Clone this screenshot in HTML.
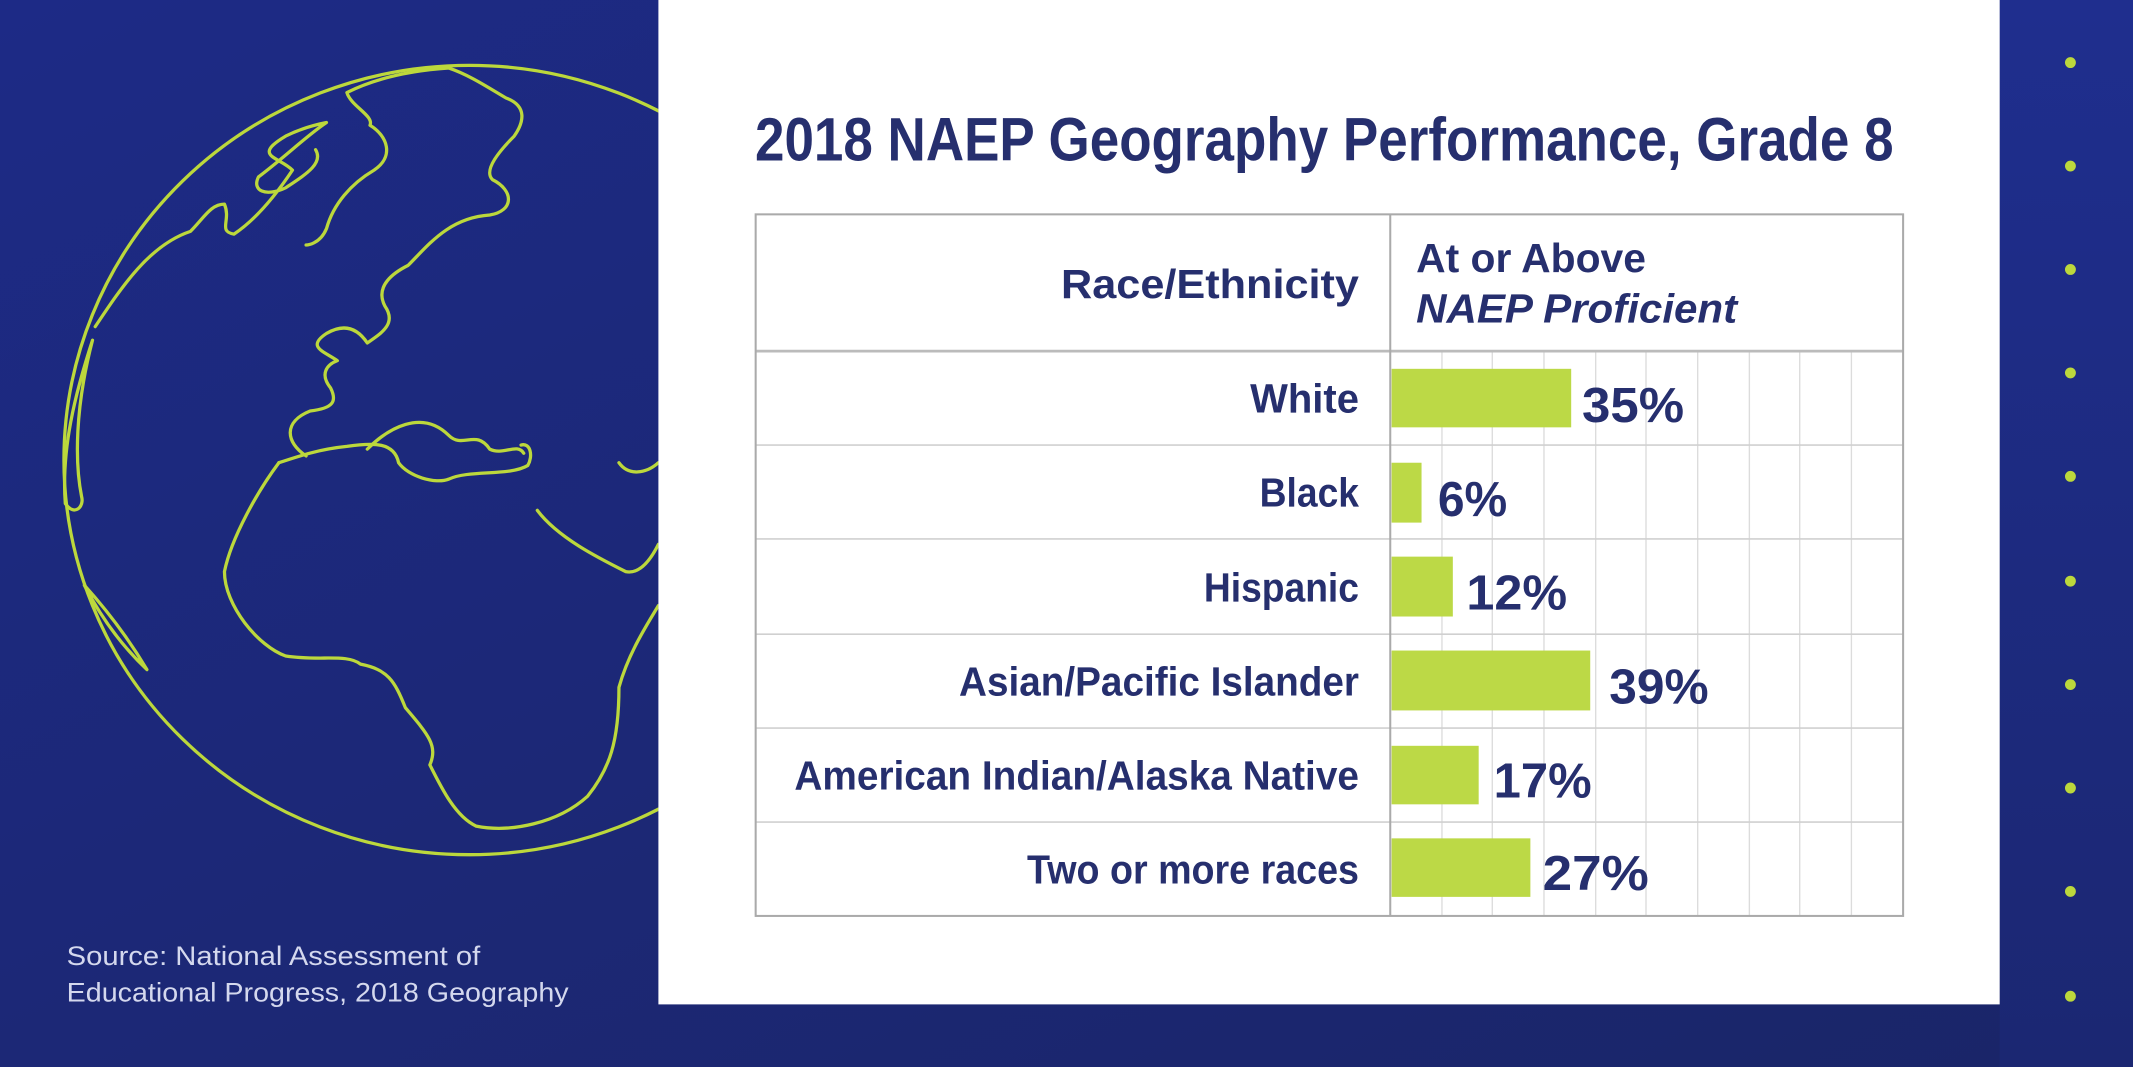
<!DOCTYPE html>
<html><head><meta charset="utf-8"><style>
html,body{margin:0;padding:0;background:#1c2878;}
svg{display:block}
</style></head><body>
<svg width="2133" height="1067" viewBox="0 0 1568 784" preserveAspectRatio="none" xmlns="http://www.w3.org/2000/svg" font-family="'Liberation Sans', sans-serif">
<defs>
<linearGradient id="bg" x1="0" y1="0" x2="1" y2="1">
<stop offset="0" stop-color="#1d2a86"/><stop offset="0.5" stop-color="#1c2876"/><stop offset="1" stop-color="#1a2568"/>
</linearGradient>
<linearGradient id="bg2" x1="0" y1="0" x2="0" y2="1">
<stop offset="0" stop-color="#1f2e8e"/><stop offset="1" stop-color="#1b2772"/>
</linearGradient>
<clipPath id="lc"><rect x="0" y="0" width="484" height="784"/></clipPath>
</defs>
<rect width="1568" height="784" fill="url(#bg)"/>
<rect x="1470" width="98" height="784" fill="url(#bg2)"/>
<g clip-path="url(#lc)" fill="none" stroke="#bcd83c" stroke-width="2.4" stroke-linejoin="round" stroke-linecap="round">
<ellipse cx="345" cy="338" rx="298" ry="290"/>
<path d="M205,340 C190,360 170,395 165,420 C165,445 190,475 210,482 C235,486 255,480 265,488 C285,492 290,500 298,520 C315,540 322,548 316,562 C325,580 335,600 350,607 C375,612 410,605 432,585 C448,565 455,545 455,505 C462,480 475,460 484,445"/>
<path d="M205,340 C220,335 235,330 255,328 C275,325 290,325 293,340 C300,350 320,356 330,352 C345,345 375,350 388,342 C392,335 390,325 383,327"/>
<path d="M225,335 C210,325 208,310 228,302 C245,300 248,295 243,285 C235,275 240,268 248,265 C238,258 225,255 240,245 C252,238 262,240 270,252 C280,245 292,238 283,225 C275,210 290,200 300,195 C315,180 330,160 360,158 C378,155 378,140 362,132 C355,125 368,110 378,100 C385,90 388,78 372,72 C360,65 345,55 330,50 C300,52 275,58 255,68 C258,78 275,85 272,92 C285,100 290,115 275,125 C258,135 245,150 240,168 C235,180 225,180 225,180"/>
<path d="M270,330 C285,315 310,300 330,320 C340,330 350,315 360,330 C370,335 380,325 385,333"/>
<path d="M70,240 C90,210 110,180 140,170 C150,160 155,150 165,150 C170,162 160,170 172,172 C190,160 205,140 215,125 C205,115 185,115 210,100 C220,95 230,92 240,90 C225,100 210,115 190,130 C185,140 195,145 210,138 C225,128 238,120 232,110"/>
<path d="M68,250 C55,290 45,330 48,370 C55,380 62,372 60,365 M60,365 C55,340 55,300 68,250"/>
<path d="M62,430 C75,455 90,475 108,492 C95,470 80,450 62,430 Z"/>
<path d="M395,375 C410,395 440,410 460,420 C470,422 478,412 484,400"/>
<path d="M455,340 C462,350 475,348 484,340"/>
</g>
<g fill="#bcd83c">
<circle cx="1522" cy="46" r="4"/><circle cx="1522" cy="122" r="4"/><circle cx="1522" cy="198" r="4"/><circle cx="1522" cy="274" r="4"/><circle cx="1522" cy="350" r="4"/><circle cx="1522" cy="427" r="4"/><circle cx="1522" cy="503" r="4"/><circle cx="1522" cy="579" r="4"/><circle cx="1522" cy="655" r="4"/><circle cx="1522" cy="732" r="4"/>
</g>
<rect x="484" y="0" width="986" height="738" fill="#ffffff"/>
<text x="555" y="118" font-size="45" font-weight="bold" fill="#262f6e" textLength="837" lengthAdjust="spacingAndGlyphs">2018 NAEP Geography Performance, Grade 8</text>
<g stroke="#dcdcdc" stroke-width="1">
<line x1="1060" y1="258" x2="1060" y2="673"/><line x1="1097" y1="258" x2="1097" y2="673"/><line x1="1135" y1="258" x2="1135" y2="673"/><line x1="1173" y1="258" x2="1173" y2="673"/><line x1="1210" y1="258" x2="1210" y2="673"/><line x1="1248" y1="258" x2="1248" y2="673"/><line x1="1286" y1="258" x2="1286" y2="673"/><line x1="1323" y1="258" x2="1323" y2="673"/><line x1="1361" y1="258" x2="1361" y2="673"/>
</g>
<g stroke="#d0d0d0" stroke-width="1.2">
<line x1="555" y1="327" x2="1399" y2="327"/><line x1="555" y1="396" x2="1399" y2="396"/><line x1="555" y1="466" x2="1399" y2="466"/><line x1="555" y1="535" x2="1399" y2="535"/><line x1="555" y1="604" x2="1399" y2="604"/>
</g>
<line x1="555" y1="258" x2="1399" y2="258" stroke="#bbbbbb" stroke-width="2"/>
<rect x="555.5" y="157.5" width="843.5" height="515.5" fill="none" stroke="#aaaaaa" stroke-width="1.5"/>
<line x1="1022" y1="157" x2="1022" y2="673" stroke="#aaaaaa" stroke-width="1.5"/>
<g fill="#bcd946">
<rect x="1023" y="271" width="132" height="43"/>
<rect x="1023" y="340" width="22" height="44"/>
<rect x="1023" y="409" width="45" height="44"/>
<rect x="1023" y="478" width="146" height="44"/>
<rect x="1023" y="548" width="64" height="43"/>
<rect x="1023" y="616" width="102" height="43"/>
</g>
<g fill="#262f6e" font-weight="bold">
<text x="999" y="219" font-size="30" text-anchor="end" textLength="219" lengthAdjust="spacingAndGlyphs">Race/Ethnicity</text>
<text x="1041" y="200" font-size="30" textLength="169" lengthAdjust="spacingAndGlyphs">At or Above</text>
<text x="1041" y="237" font-size="30" font-style="italic" textLength="236" lengthAdjust="spacingAndGlyphs">NAEP Proficient</text>
<g font-size="30" text-anchor="end">
<text x="999" y="303" textLength="80" lengthAdjust="spacingAndGlyphs">White</text>
<text x="999" y="372" textLength="73" lengthAdjust="spacingAndGlyphs">Black</text>
<text x="999" y="442" textLength="114" lengthAdjust="spacingAndGlyphs">Hispanic</text>
<text x="999" y="511" textLength="294" lengthAdjust="spacingAndGlyphs">Asian/Pacific Islander</text>
<text x="999" y="580" textLength="415" lengthAdjust="spacingAndGlyphs">American Indian/Alaska Native</text>
<text x="999" y="649" textLength="244" lengthAdjust="spacingAndGlyphs">Two or more races</text>
</g>
<g font-size="36">
<text x="1163" y="310" textLength="75" lengthAdjust="spacingAndGlyphs">35%</text>
<text x="1057" y="379" textLength="51" lengthAdjust="spacingAndGlyphs">6%</text>
<text x="1078" y="448" textLength="74" lengthAdjust="spacingAndGlyphs">12%</text>
<text x="1183" y="517" textLength="73" lengthAdjust="spacingAndGlyphs">39%</text>
<text x="1098" y="586" textLength="72" lengthAdjust="spacingAndGlyphs">17%</text>
<text x="1134" y="654" textLength="78" lengthAdjust="spacingAndGlyphs">27%</text>
</g>
</g>
<g fill="#d4d8ee" font-size="20">
<text x="49" y="709" textLength="304" lengthAdjust="spacingAndGlyphs">Source: National Assessment of</text>
<text x="49" y="736" textLength="369" lengthAdjust="spacingAndGlyphs">Educational Progress, 2018 Geography</text>
</g>
</svg>
</body></html>
